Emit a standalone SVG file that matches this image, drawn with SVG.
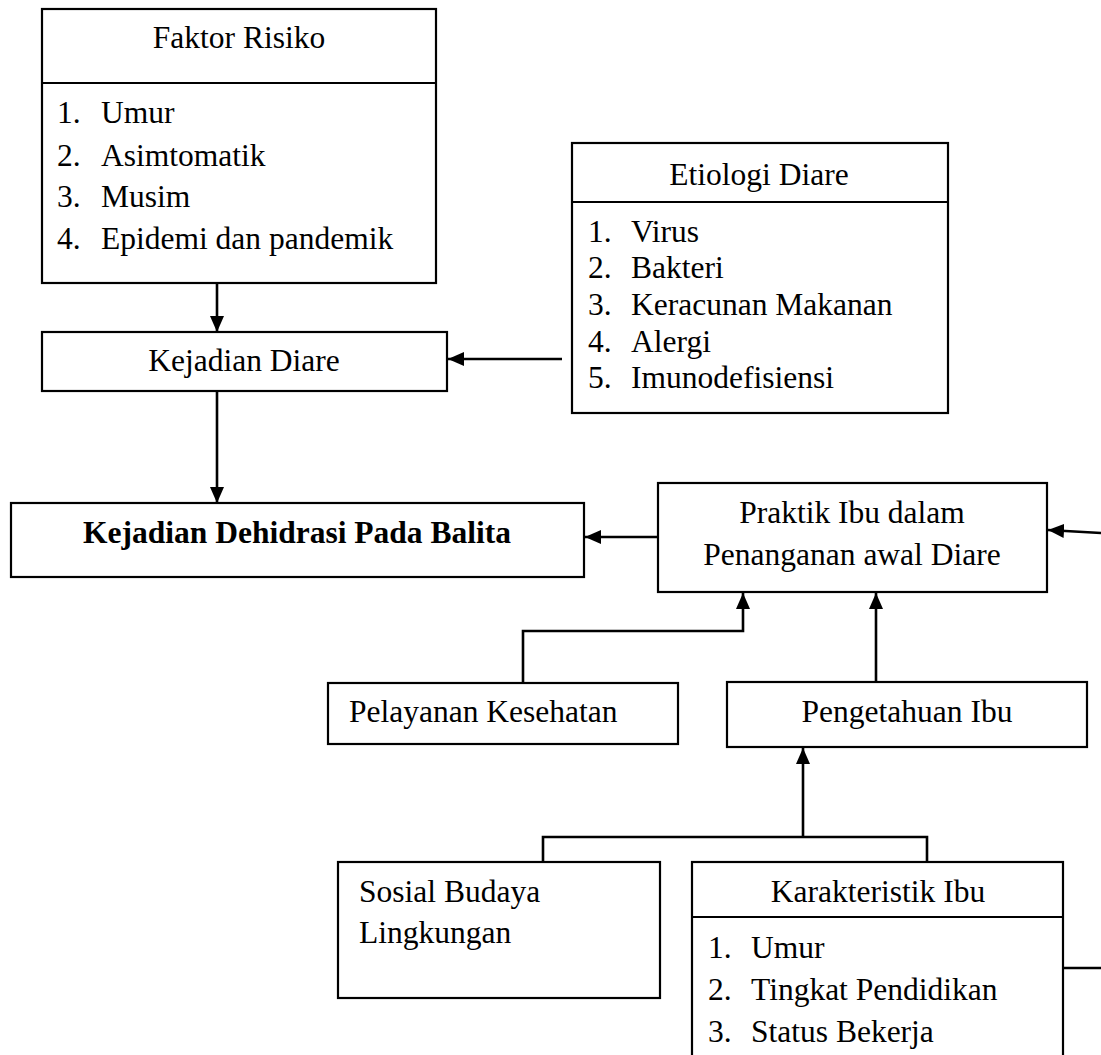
<svg xmlns="http://www.w3.org/2000/svg" width="1101" height="1055" viewBox="0 0 1101 1055">
<defs>
<marker id="ah" viewBox="0 0 16 14" refX="16" refY="7" markerWidth="16" markerHeight="14" markerUnits="userSpaceOnUse" orient="auto">
<path d="M0,0 L16,7 L0,14 z" fill="#000"/>
</marker>
<style>
.box{fill:#fff;stroke:#000;stroke-width:2.2}
.div{stroke:#000;stroke-width:2.2}
.t{font-family:"Liberation Serif","Times New Roman",serif;font-size:31.5px;fill:#000}
.c{text-anchor:middle}
.b{font-weight:bold}
.con{fill:none;stroke:#000;stroke-width:2.6}
</style>
</defs>
<rect width="1101" height="1055" fill="#fff"/>

<g id="faktor-risiko">
<rect class="box" x="42" y="9" width="394" height="274"/>
<line class="div" x1="42" y1="83" x2="436" y2="83"/>
<text class="t c" x="239" y="48">Faktor Risiko</text>
<text class="t" x="57" y="123">1.</text><text class="t" x="101" y="123">Umur</text>
<text class="t" x="57" y="166">2.</text><text class="t" x="101" y="166">Asimtomatik</text>
<text class="t" x="57" y="207">3.</text><text class="t" x="101" y="207">Musim</text>
<text class="t" x="57" y="249">4.</text><text class="t" x="101" y="249">Epidemi dan pandemik</text>
</g>

<g id="etiologi-diare">
<rect class="box" x="572" y="143" width="376" height="270"/>
<line class="div" x1="572" y1="202" x2="948" y2="202"/>
<text class="t c" x="759" y="185">Etiologi Diare</text>
<text class="t" x="588" y="242">1.</text><text class="t" x="631" y="242">Virus</text>
<text class="t" x="588" y="278">2.</text><text class="t" x="631" y="278">Bakteri</text>
<text class="t" x="588" y="315">3.</text><text class="t" x="631" y="315">Keracunan Makanan</text>
<text class="t" x="588" y="352">4.</text><text class="t" x="631" y="352">Alergi</text>
<text class="t" x="588" y="388">5.</text><text class="t" x="631" y="388">Imunodefisiensi</text>
</g>

<g id="kejadian-diare">
<rect class="box" x="42" y="332" width="405" height="59"/>
<text class="t c" x="244" y="371">Kejadian Diare</text>
</g>

<g id="kejadian-dehidrasi">
<rect class="box" x="11" y="503" width="573" height="74"/>
<text class="t c b" x="297" y="543">Kejadian Dehidrasi Pada Balita</text>
</g>

<g id="praktik-ibu">
<rect class="box" x="658" y="483" width="389" height="109"/>
<text class="t c" x="852" y="523">Praktik Ibu dalam</text>
<text class="t c" x="852" y="565">Penanganan awal Diare</text>
</g>

<g id="pelayanan-kesehatan">
<rect class="box" x="328" y="683" width="350" height="61"/>
<text class="t" x="349" y="722">Pelayanan Kesehatan</text>
</g>

<g id="pengetahuan-ibu">
<rect class="box" x="727" y="682" width="360" height="65"/>
<text class="t c" x="907" y="722">Pengetahuan Ibu</text>
</g>

<g id="sosial-budaya">
<rect class="box" x="338" y="862" width="322" height="136"/>
<text class="t" x="359" y="902">Sosial Budaya</text>
<text class="t" x="359" y="943">Lingkungan</text>
</g>

<g id="karakteristik-ibu">
<rect class="box" x="692" y="862" width="371" height="200"/>
<line class="div" x1="692" y1="917" x2="1063" y2="917"/>
<text class="t c" x="878" y="902">Karakteristik Ibu</text>
<text class="t" x="708" y="958">1.</text><text class="t" x="751" y="958">Umur</text>
<text class="t" x="708" y="1000">2.</text><text class="t" x="751" y="1000">Tingkat Pendidikan</text>
<text class="t" x="708" y="1042">3.</text><text class="t" x="751" y="1042">Status Bekerja</text>
</g>

<g id="connectors">
<path class="con" d="M217,283 V332" marker-end="url(#ah)"/>
<path class="con" d="M562,359 H448" marker-end="url(#ah)"/>
<path class="con" d="M217,391 V503" marker-end="url(#ah)"/>
<path class="con" d="M658,537 H585" marker-end="url(#ah)"/>
<path class="con" d="M1101,533 L1048,530" marker-end="url(#ah)"/>
<path class="con" d="M523,683 V631 H743 V593" marker-end="url(#ah)"/>
<path class="con" d="M876,682 V593" marker-end="url(#ah)"/>
<path class="con" d="M543,861 V837 H927 V861"/>
<path class="con" d="M803,837 V748" marker-end="url(#ah)"/>
<path class="con" d="M1063,968 H1101"/>
</g>
</svg>
